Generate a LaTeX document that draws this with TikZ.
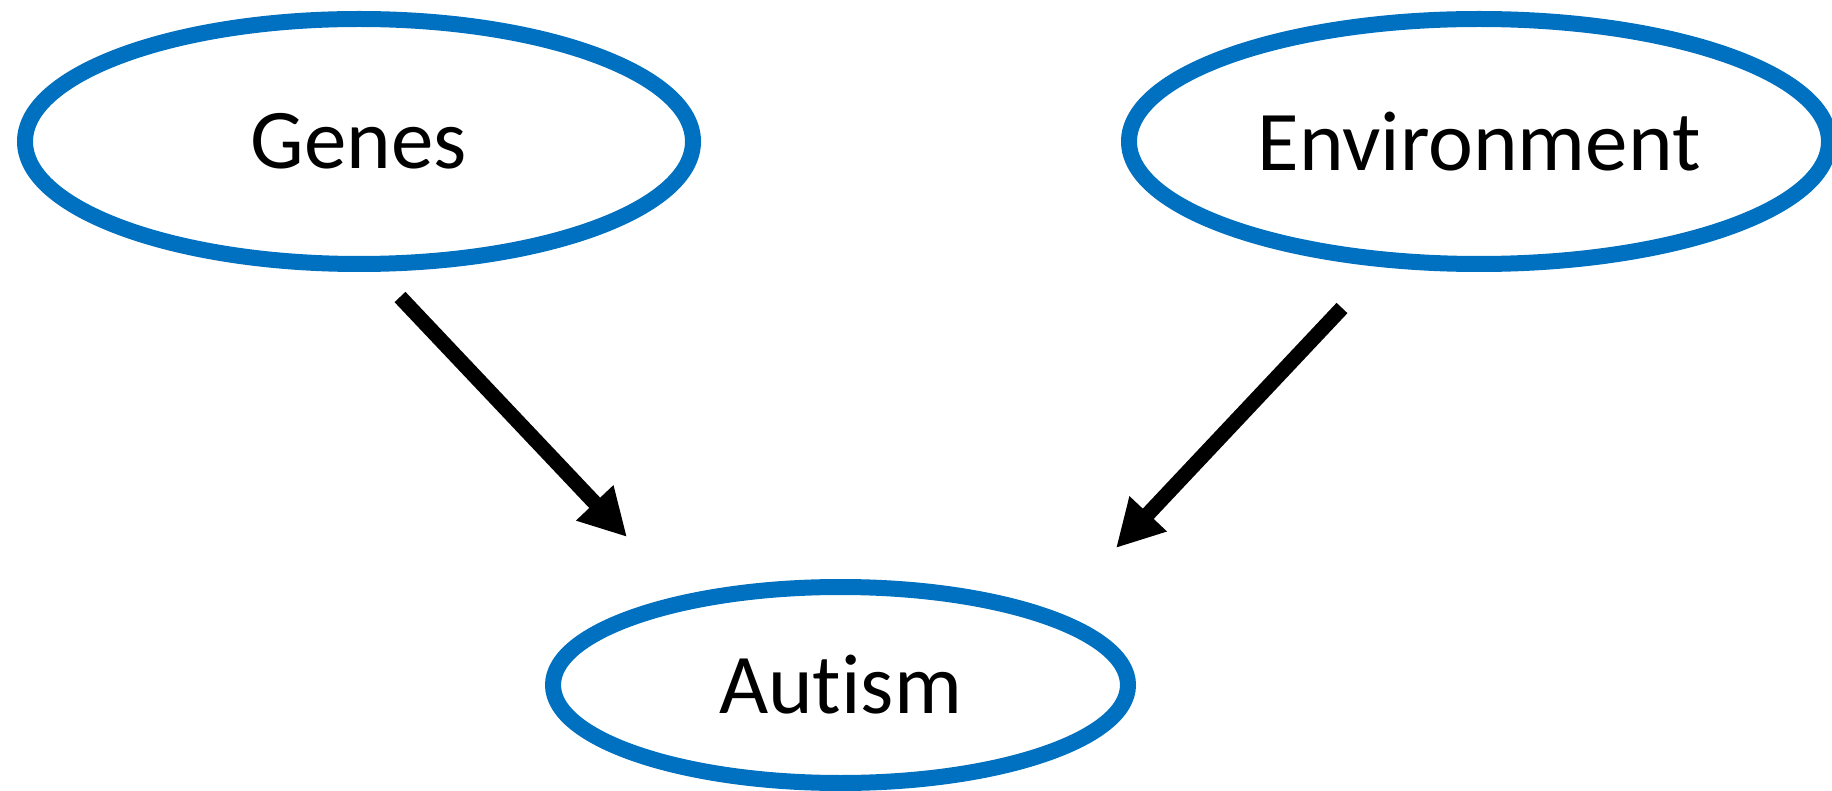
\documentclass[tikz,border=0pt]{standalone}
\usepackage{fontspec}
\setmainfont{Carlito}[Ligatures=NoCommon]
\usetikzlibrary{shapes.geometric,arrows.meta}
\definecolor{causeblue}{RGB}{0,112,192}
\begin{document}
\begin{tikzpicture}
        [x=1pt,y=-1pt,
        nodedecorate/.style={shape=ellipse,draw=causeblue,line width=16pt,inner sep=0pt,%
          font=\fontsize{85}{100}\selectfont},%
        arrowdecorate/.style={-{Triangle[length=47pt,width=48pt]},line width=15pt}]
        \useasboundingbox (0,0) rectangle (1832,791);
        %% nodes or vertices

        \foreach \nodename/\x/\y/\w/\h/\nodetext in {genes/359/141.5/668/245/Genes,
          environment/1479/141.5/700/245/Environment, autism/840.5/685/575/196/Autism}
        {
          \node (\nodename) at (\x,\y) [nodedecorate,minimum width=\w pt,minimum height=\h pt] {\nodetext};
        }
        %% ends of the arrows
        \foreach \pointname/\x/\y in {genes-tail/400/297, genes-tip/627/537,
          environment-tail/1342/308, environment-tip/1116/548}
        {
          \coordinate (\pointname) at (\x,\y);
        }
        %% edges or lines
        \path
        \foreach \startnode/\endnode in {genes-tail/genes-tip, environment-tail/environment-tip}
        {
          (\startnode) edge[arrowdecorate] (\endnode)
        };
      \end{tikzpicture}
\end{document}
